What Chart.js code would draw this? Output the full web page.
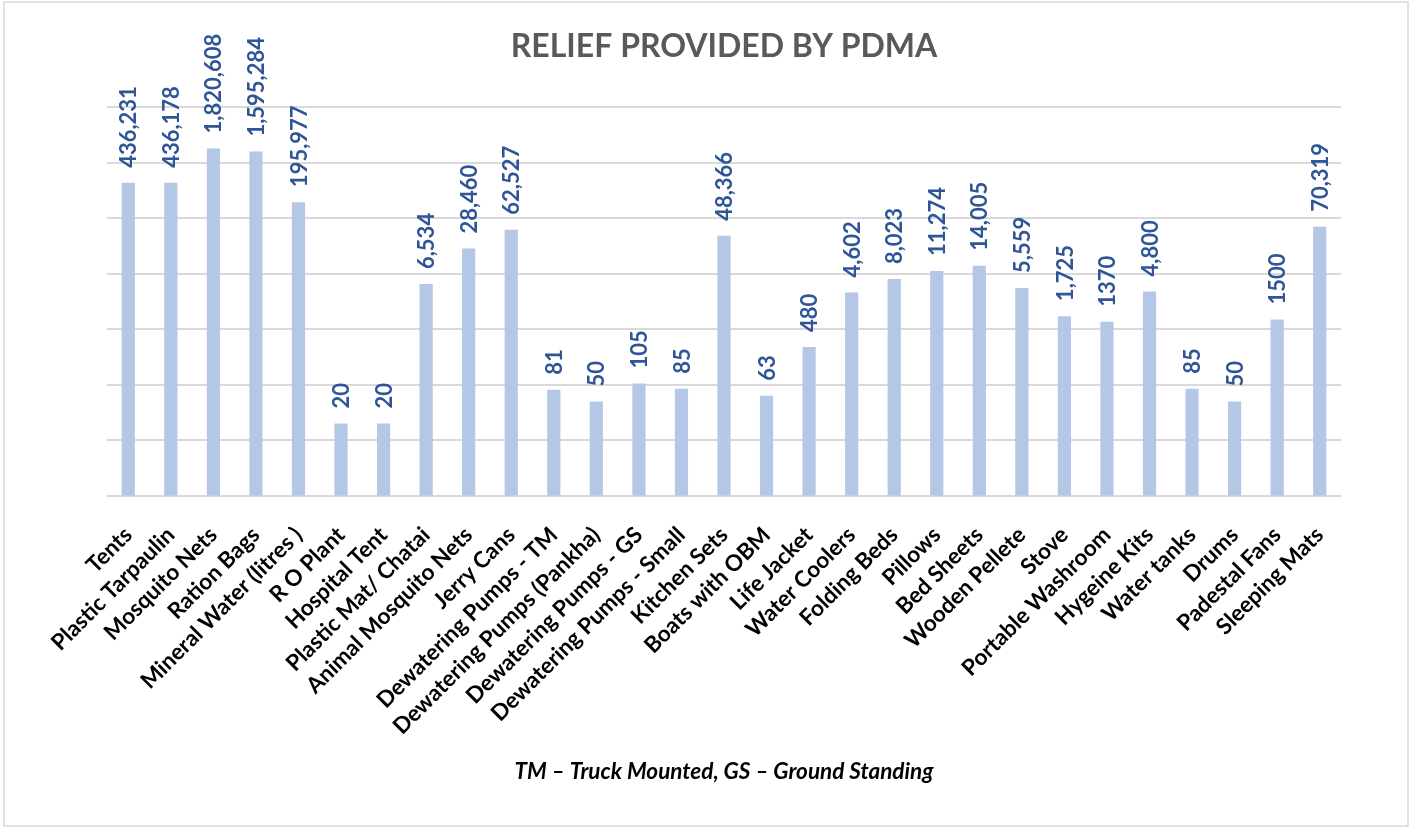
<!DOCTYPE html>
<html>
<head>
<meta charset="utf-8">
<script src="https://cdn.jsdelivr.net/npm/chart.js@4/dist/chart.umd.min.js"></script>
<style>
  html, body { margin: 0; padding: 0; background: #fff; }
  #wrap { width: 1413px; height: 829px; }
</style>
</head>
<body>
<div id="wrap"><canvas id="reliefChart" width="1413" height="829"></canvas></div>
<script>
const items = [
  "Tents", "Plastic Tarpaulin", "Mosquito Nets", "Ration Bags", "Mineral Water (litres )",
  "R O Plant", "Hospital Tent", "Plastic Mat/ Chatai", "Animal Mosquito Nets", "Jerry Cans",
  "Dewatering Pumps - TM", "Dewatering Pumps (Pankha)", "Dewatering Pumps - GS", "Dewatering Pumps - Small",
  "Kitchen Sets", "Boats with OBM", "Life Jacket", "Water Coolers", "Folding Beds", "Pillows",
  "Bed Sheets", "Wooden Pellete", "Stove", "Portable Washroom", "Hygeine Kits", "Water tanks",
  "Drums", "Padestal Fans", "Sleeping Mats"
];
const quantities = [
  436231, 436178, 1820608, 1595284, 195977,
  20, 20, 6534, 28460, 62527,
  81, 50, 105, 85,
  48366, 63, 480, 4602, 8023, 11274,
  14005, 5559, 1725, 1370, 4800, 85,
  50, 1500, 70319
];
const quantityLabels = [
  "436,231", "436,178", "1,820,608", "1,595,284", "195,977",
  "20", "20", "6,534", "28,460", "62,527",
  "81", "50", "105", "85",
  "48,366", "63", "480", "4,602", "8,023", "11,274",
  "14,005", "5,559", "1,725", "1370", "4,800", "85",
  "50", "1500", "70,319"
];
const gridValues = [1, 10, 100, 1000, 10000, 100000, 1000000, 10000000];

const barLabels = {
  id: 'barLabels',
  afterDatasetsDraw(chart) {
    const ctx = chart.ctx;
    const meta = chart.getDatasetMeta(0);
    ctx.save();
    ctx.fillStyle = "#2F5597";
    ctx.font = "bold 22px Lato";
    ctx.textAlign = "left";
    ctx.textBaseline = "middle";
    meta.data.forEach((bar, i) => {
      ctx.save();
      ctx.translate(bar.x + 1, bar.y - 15);
      ctx.rotate(-Math.PI / 2);
      ctx.fillText(quantityLabels[i], 0, 0);
      ctx.restore();
    });
    ctx.restore();
  }
};

const frame = {
  id: 'frame',
  beforeDraw(chart) {
    const ctx = chart.ctx;
    ctx.save();
    ctx.fillStyle = "#fff";
    ctx.fillRect(0, 0, chart.width, chart.height);
    ctx.strokeStyle = "#d9d9d9";
    ctx.lineWidth = 1.5;
    ctx.strokeRect(4, 2, 1404, 824);
    ctx.restore();
  }
};

new Chart(document.getElementById("reliefChart"), {
  type: 'bar',
  data: {
    labels: items,
    datasets: [{
      data: quantities,
      backgroundColor: "#B4C7E7",
      barPercentage: 0.62,
      categoryPercentage: 0.5
    }]
  },
  options: {
    responsive: false,
    animation: false,
    layout: { padding: { left: 107, right: 72, top: 0, bottom: 0 } },
    plugins: {
      legend: { display: false },
      tooltip: { enabled: false },
      title: {
        display: true,
        text: "RELIEF PROVIDED BY PDMA",
        color: "#595959",
        font: { family: "Lato", size: 32, weight: 'bold' },
        padding: { top: 27, bottom: 42 }
      },
      subtitle: {
        display: true,
        position: 'bottom',
        text: "TM \u2013 Truck Mounted, GS \u2013 Ground Standing",
        color: "#000",
        font: { family: "Lato", size: 22.5, weight: 'bold', style: 'italic' },
        padding: { top: 0, bottom: 44 }
      }
    },
    scales: {
      x: {
        grid: { display: false },
        border: { display: false },
        ticks: {
          color: "#000",
          font: { family: "Lato", size: 22.5, weight: 'bold' },
          minRotation: 45,
          maxRotation: 45,
          autoSkip: false,
          padding: 18
        }
      },
      y: {
        type: 'logarithmic',
        min: 1,
        max: 10000000,
        afterBuildTicks: axis => { axis.ticks = gridValues.map(v => ({ value: v })); },
        ticks: { display: false },
        border: { display: false },
        grid: { color: "#d9d9d9", lineWidth: 2, drawTicks: false }
      }
    }
  },
  plugins: [frame, barLabels]
});
</script>
</body>
</html>
